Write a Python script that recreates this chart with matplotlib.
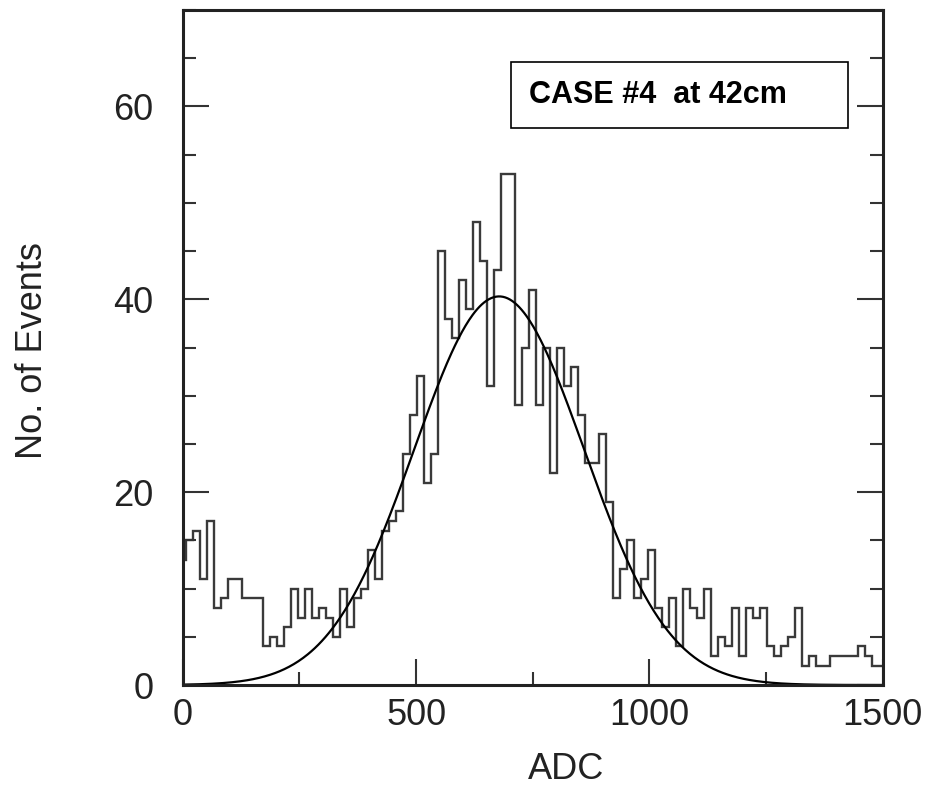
import matplotlib.pyplot as plt
from matplotlib.patches import Rectangle
from matplotlib.ticker import MultipleLocator
import numpy as np

plt.rcParams['font.family'] = ['Liberation Sans', 'DejaVu Sans']

# bin centres (ADC), 15 ADC wide
adc = np.arange(0, 1501, 15)
counts = [13, 15, 16, 11, 17, 8, 9, 11, 11, 9,
          9, 9, 4, 5, 4, 6, 10, 7, 10, 7,
          8, 7, 5, 10, 6, 9, 10, 14, 11, 16,
          17, 18, 24, 28, 32, 21, 24, 45, 38, 36,
          42, 39, 48, 44, 31, 43, 53, 53, 29, 35,
          41, 29, 35, 22, 35, 31, 33, 28, 23, 23,
          26, 19, 9, 12, 15, 9, 11, 14, 8, 6,
          9, 4, 10, 8, 7, 10, 3, 5, 4, 8,
          3, 8, 7, 8, 4, 3, 4, 5, 8, 2,
          3, 2, 2, 3, 3, 3, 3, 4, 3, 2, 2]

# gaussian fit parameters
fit_amp = 40.3
fit_mean = 678.0
fit_sigma = 182.0

title = 'CASE #4  at 42cm'

edges = np.append(adc - 7.5, adc[-1] + 7.5)
xfit = np.linspace(0, 1500, 600)
yfit = fit_amp * np.exp(-0.5 * ((xfit - fit_mean) / fit_sigma) ** 2)

fig = plt.figure(figsize=(9.3, 7.9), dpi=100)
ax = fig.add_axes([0.1965, 0.1329, 0.7527, 0.8544])

ax.stairs(counts, edges, color='#3a3a3a', lw=1.7)
ax.plot(xfit, yfit, color='black', lw=1.6)

ax.set_xlim(0, 1500)
ax.set_ylim(0, 70)

ax.xaxis.set_major_locator(MultipleLocator(500))
ax.xaxis.set_minor_locator(MultipleLocator(250))
ax.yaxis.set_major_locator(MultipleLocator(20))
ax.yaxis.set_minor_locator(MultipleLocator(5))

ax.tick_params(which='both', direction='in', top=False, right=True,
               color='#333333', width=1.5)
ax.tick_params(which='major', length=18.5)
ax.tick_params(which='minor', length=9.5)
ax.tick_params(axis='x', pad=9, labelsize=26, labelcolor='#222222')
ax.tick_params(axis='y', pad=21, labelsize=26, labelcolor='#222222')

for s in ax.spines.values():
    s.set_linewidth(2.2)
    s.set_color('#222222')

ax.set_xlabel('ADC', fontsize=26, color='#222222')
ax.set_ylabel('No. of Events', fontsize=26, color='#222222')
ax.xaxis.set_label_coords(0.548, -0.099)
ax.yaxis.set_label_coords(-0.19, 0.496)

# label box
ax.add_patch(Rectangle((0.469, 0.825), 0.482, 0.098, transform=ax.transAxes,
                       facecolor='white', edgecolor='black', lw=1.2, zorder=5))
ax.text(0.494, 0.874, title, transform=ax.transAxes, fontsize=22,
        fontweight='bold', va='center', ha='left', zorder=6)

plt.savefig('out.png')
